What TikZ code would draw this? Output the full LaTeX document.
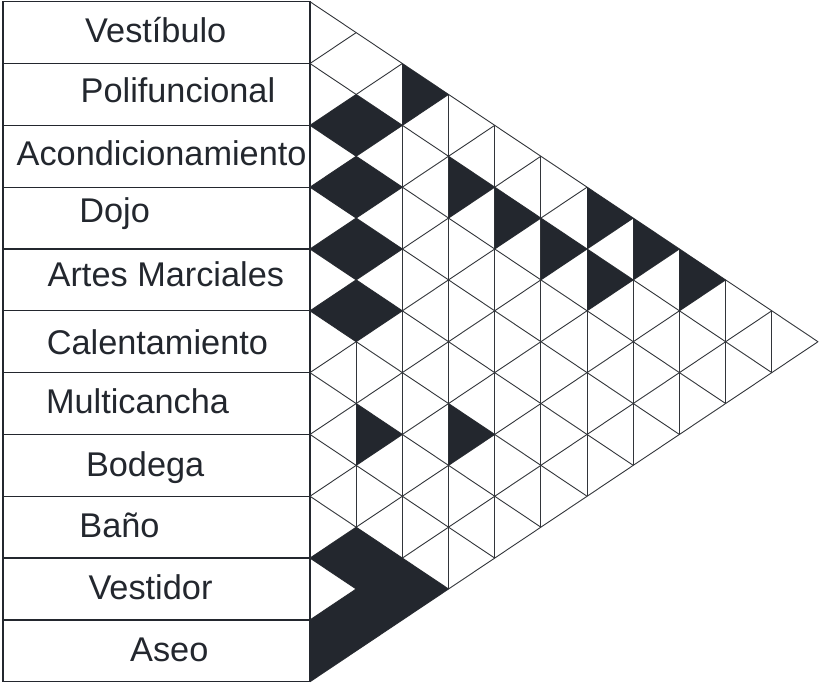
\documentclass[tikz,border=0pt]{standalone}
\usepackage{fontspec}
\setmainfont{Liberation Sans}
\definecolor{ink}{RGB}{35,39,46}
\definecolor{linec}{RGB}{50,53,58}
\begin{document}
\begin{tikzpicture}[x=1pt,y=-1pt,
  rowbox/.style={draw=ink, line width=1.3pt},
  lab/.style={anchor=base west, inner sep=0pt, text=ink, font=\fontsize{34.3}{40}\selectfont},
  latt/.style={draw=linec, line width=0.9pt, line join=round},
  darkfill/.style={fill=ink}]
\useasboundingbox (0,0) rectangle (820,683);
\fill[white] (0,0) rectangle (820,683);
% row boxes
\foreach \i in {0,...,10}
  \draw[rowbox] (3,{1.7+61.82*\i}) rectangle (310,{1.7+61.82*(\i+1)});
% labels
\node[lab] (vest) at (85,42.7) {Vestíbulo};
\node[lab] (poli) at (80.5,102.8) {Polifuncional};
\node[lab] (acond) at (16.5,165.5) {Acondicionamiento};
\node[lab] (dojo) at (79.2,222.7) {Dojo};
\node[lab] (artes) at (47.5,286) {Artes Marciales};
\node[lab] (calen) at (46.6,354) {Calentamiento};
\node[lab] (multi) at (45.8,413.3) {Multicancha};
\node[lab] (bodega) at (85.8,476) {Bodega};
\node[lab] (bano) at (79.2,537.7) {Baño};
\node[lab] (vestidor) at (88.3,599.3) {Vestidor};
\node[lab] (aseo) at (130,661.7) {Aseo};
% relation matrix
\begin{scope}[shift={(310pt,-1.7pt)}, x=46.18pt, y=-30.91pt]
  % lattice lines
  \foreach \m in {1,...,10} {
    \draw[latt] (0,{2*\m}) -- ({11-\m},{11+\m});
    \draw[latt] (0,{2*\m}) -- (\m,\m);
  }
  \foreach \k in {2,...,10}
    \draw[latt] (\k,\k) -- (\k,{22-\k});
  \draw[latt] (1,11) -- (1,21);
  \draw[latt] (0,0) -- (11,11) -- (0,22);
  % filled relations
  \fill[darkfill] (2,2) -- (3,3) -- (2,4) -- cycle;
  \fill[darkfill] (0,4) -- (1,3) -- (2,4) -- (1,5) -- cycle;
  \fill[darkfill] (0,6) -- (1,5) -- (2,6) -- (1,7) -- cycle;
  \fill[darkfill] (0,8) -- (1,7) -- (2,8) -- (1,9) -- cycle;
  \fill[darkfill] (0,10) -- (1,9) -- (2,10) -- (1,11) -- cycle;
  \fill[darkfill] (3,5) -- (4,6) -- (3,7) -- cycle;
  \fill[darkfill] (4,6) -- (5,7) -- (4,8) -- cycle;
  \fill[darkfill] (5,7) -- (6,8) -- (5,9) -- cycle;
  \fill[darkfill] (6,6) -- (7,7) -- (6,8) -- cycle;
  \fill[darkfill] (6,8) -- (7,9) -- (6,10) -- cycle;
  \fill[darkfill] (7,7) -- (8,8) -- (7,9) -- cycle;
  \fill[darkfill] (8,8) -- (9,9) -- (8,10) -- cycle;
  \fill[darkfill] (1,13) -- (2,14) -- (1,15) -- cycle;
  \fill[darkfill] (3,13) -- (4,14) -- (3,15) -- cycle;
  \fill[darkfill] (0,18) -- (1,17) -- (3,19) -- (0,22) -- (0,20) -- (1,19) -- cycle;
\end{scope}
\end{tikzpicture}
\end{document}
